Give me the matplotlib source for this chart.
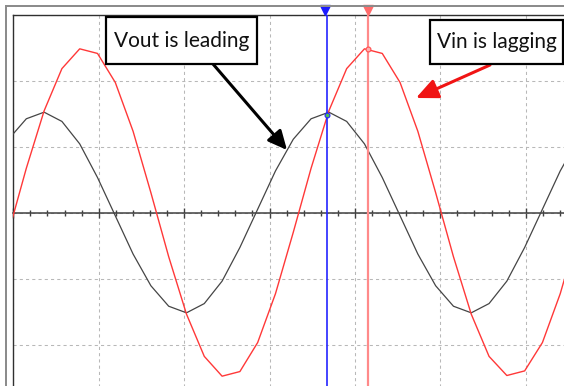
import numpy as np
import matplotlib
matplotlib.use("Agg")
import matplotlib.pyplot as plt
from matplotlib.patches import Rectangle
from matplotlib.ticker import MultipleLocator

# ---------------- data (in screen divisions) ----------------
t_start = -0.056          # time of first sample (div)
t_step = 0.2084           # sample interval (div)
vin = [-0.30, 0.67, 1.54, 2.18, 2.48, 2.41, 1.97, 1.23,
       0.30, -0.67, -1.54, -2.18, -2.48, -2.41, -1.97, -1.23,
       -0.30, 0.67, 1.54, 2.18, 2.48, 2.41, 1.97, 1.23,
       0.30, -0.67, -1.54, -2.18, -2.47, -2.40, -1.97, -1.23,
       -0.30]
vout = [1.11, 1.42, 1.52, 1.38, 1.04, 0.53, -0.05, -0.63,
        -1.11, -1.42, -1.52, -1.38, -1.04, -0.53, 0.05, 0.63,
        1.11, 1.42, 1.52, 1.38, 1.04, 0.53, -0.05, -0.63,
        -1.11, -1.42, -1.52, -1.38, -1.04, -0.53, 0.05, 0.63,
        1.11]
cursor1 = (3.67, 1.48)    # blue cursor on Vout peak
cursor2 = (4.153, 2.47)   # red cursor on Vin peak
label_lead = "Vout is leading"
label_lag = "Vin is lagging"

# ---------------- figure ----------------
plt.rcParams["font.family"] = ["Lato", "DejaVu Sans"]
W, H = 564, 386
fig = plt.figure(figsize=(W / 100, H / 100), dpi=100)


def fx(px):
    return px / W


def fy(py):
    return 1 - py / H


x0_px, zero_px = 13.3, 212.5
dx, dy = 85.4, 66.0
xmin, xmax = 0.0, 6.8
ymin, ymax = -2.9, 3.0
top_px = zero_px - ymax * dy
bottom_px = zero_px - ymin * dy
ax = fig.add_axes([fx(x0_px), fy(bottom_px), (xmax - xmin) * dx / W,
                   (bottom_px - top_px) / H])
ax.set_xlim(xmin, xmax)
ax.set_ylim(ymin, ymax)

# outer grey frame
fig.add_artist(Rectangle((fx(5), 0), fx(2.4), fy(5), transform=fig.transFigure,
                         facecolor="#8c8c8c", edgecolor="none"))
fig.add_artist(Rectangle((fx(5), fy(7.4)), 1, 2.4 / H, transform=fig.transFigure,
                         facecolor="#8c8c8c", edgecolor="none"))

# spines / axis
for s in ("left", "top"):
    ax.spines[s].set_color("#303030")
    ax.spines[s].set_linewidth(1.0)
ax.spines["right"].set_visible(False)
ax.spines["bottom"].set_position(("data", 0))
ax.spines["bottom"].set_color("#404040")
ax.spines["bottom"].set_linewidth(1.1)

ax.xaxis.set_major_locator(MultipleLocator(1))
ax.xaxis.set_minor_locator(MultipleLocator(0.2))
ax.yaxis.set_major_locator(MultipleLocator(1))
ax.tick_params(axis="x", which="major", direction="inout", length=7, width=1,
               color="#404040", labelbottom=False, top=False)
ax.tick_params(axis="x", which="minor", direction="inout", length=4.5, width=1,
               color="#404040", top=False)
ax.tick_params(axis="y", which="both", left=False, labelleft=False, right=False)
ax.grid(True, which="major", color="#b8b8b8", linestyle=(0, (3, 3)), linewidth=0.75)
ax.set_axisbelow(True)

t = t_start + t_step * np.arange(len(vin))
ax.plot(t, vout, color="#454545", lw=0.9, zorder=3)
ax.plot(t, vin, color="#ff3838", lw=1.0, zorder=4)

# cursors
ax.axvline(cursor1[0], color="#2424ff", lw=1.2, zorder=5)
ax.axvline(cursor2[0], color="#ff8a8a", lw=1.6, zorder=5)
ax.plot([cursor1[0]], [cursor1[1]], marker="o", ms=3.5, mfc="#50c050",
        mec="#2424ff", mew=0.8, zorder=6)
ax.plot([cursor2[0]], [cursor2[1]], marker="o", ms=3.5, mfc="#ffb0b0",
        mec="#ff5050", mew=0.8, zorder=6)
ax.plot([cursor1[0] - 0.02], [3.065], marker="v", ms=6.5, color="#1a1aff",
        clip_on=False, zorder=12)
ax.plot([cursor2[0]], [3.065], marker="v", ms=6.5, color="#ff6a6a",
        clip_on=False, zorder=12)

# annotation boxes
fig.add_artist(Rectangle((fx(106), fy(64)), fx(151), (64 - 17) / H,
                         transform=fig.transFigure, facecolor="white",
                         edgecolor="black", lw=1.6, zorder=10))
fig.text(fx(181.5), fy(41), label_lead, ha="center", va="center",
         fontsize=15, color="#111111", zorder=11)
fig.add_artist(Rectangle((fx(430), fy(64)), fx(133), (64 - 20) / H,
                         transform=fig.transFigure, facecolor="white",
                         edgecolor="black", lw=1.6, zorder=10))
fig.text(fx(496.5), fy(42.5), label_lag, ha="center", va="center",
         fontsize=15, color="#111111", zorder=11)

# arrows
ax.annotate("", xy=(287, H - 150), xycoords="figure pixels",
            xytext=(213, H - 64), textcoords="figure pixels",
            arrowprops=dict(arrowstyle="-|>,head_length=0.95,head_width=0.45",
                            mutation_scale=12, lw=2.2, color="black",
                            shrinkA=0, shrinkB=0), zorder=9)
ax.annotate("", xy=(416, H - 98), xycoords="figure pixels",
            xytext=(490, H - 65), textcoords="figure pixels",
            arrowprops=dict(arrowstyle="-|>,head_length=1.1,head_width=0.5",
                            mutation_scale=12, lw=2.2, color="#f01414",
                            shrinkA=0, shrinkB=0), zorder=9)

fig.savefig("out.png", dpi=100)
